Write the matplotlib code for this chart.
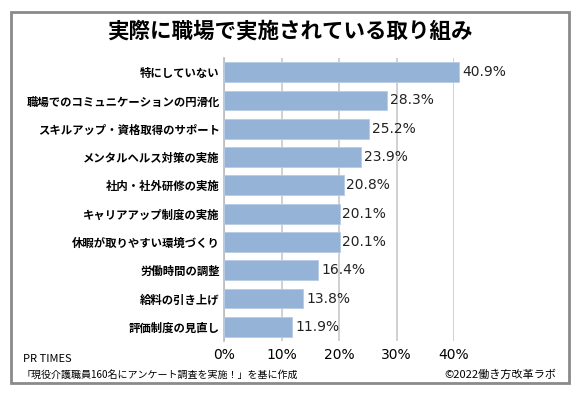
import matplotlib.pyplot as plt
import matplotlib.patches as mpatches

plt.rcParams['font.family'] = ['Noto Sans CJK JP', 'DejaVu Sans']

# Data
categories = [
    '特にしていない',
    '職場でのコミュニケーションの円滑化',
    'スキルアップ・資格取得のサポート',
    'メンタルヘルス対策の実施',
    '社内・社外研修の実施',
    'キャリアアップ制度の実施',
    '休暇が取りやすい環境づくり',
    '労働時間の調整',
    '給料の引き上げ',
    '評価制度の見直し',
]
values = [40.9, 28.3, 25.2, 23.9, 20.8, 20.1, 20.1, 16.4, 13.8, 11.9]
ticks = [0, 10, 20, 30, 40]

fig = plt.figure(figsize=(5.79, 3.97), dpi=100)
ax = fig.add_axes([224 / 579, 1 - 341 / 397, 230 / 579, 283 / 397])

y = list(range(len(categories)))
bars = ax.barh(y, values, height=0.7, color='#95b3d7', edgecolor='#b8cce4',
               linewidth=0.6, zorder=3)
for b in bars:
    b.set_clip_on(False)

for yi, v in zip(y, values):
    ax.text(v + 0.5, yi, f'{v:.1f}%', va='center', ha='left', fontsize=10,
            family=['DejaVu Sans'], color='#222222')

ax.set_xlim(0, 40)
ax.set_ylim(len(categories) - 0.5, -0.5)
ax.set_xticks(ticks)
ax.set_xticklabels([f'{t}%' for t in ticks], family=['DejaVu Sans'], fontsize=10)
ax.set_yticks(y)
ax.set_yticklabels(categories, fontsize=8.2, fontweight='bold')
ax.tick_params(axis='y', length=0, pad=3)
ax.tick_params(axis='x', length=0, pad=5)
ax.grid(axis='x', color='#c8c8c8', linewidth=1.2, zorder=0)
for s in ['top', 'right', 'bottom']:
    ax.spines[s].set_visible(False)
ax.spines['left'].set_color('#bbbbbb')
ax.spines['left'].set_linewidth(1.2)

# outer frame
fig.patches.append(mpatches.Rectangle((11 / 579, 1 - 383 / 397), 558 / 579, 371 / 397,
                                      transform=fig.transFigure, fill=False,
                                      edgecolor='#8a8a8a', linewidth=2))

fig.text(0.5, 1 - 31 / 397, '実際に職場で実施されている取り組み', ha='center', va='center',
         fontsize=15.5, fontweight='bold')
fig.text(23 / 579, 1 - 359 / 397, 'PR TIMES', ha='left', va='center', fontsize=8)
fig.text(22 / 579, 1 - 375 / 397, '「現役介護職員160名にアンケート調査を実施！」を基に作成',
         ha='left', va='center', fontsize=7.2)
fig.text(556 / 579, 1 - 375 / 397, '©2022働き方改革ラボ', ha='right', va='center', fontsize=8)

fig.savefig('out.png', dpi=100)
